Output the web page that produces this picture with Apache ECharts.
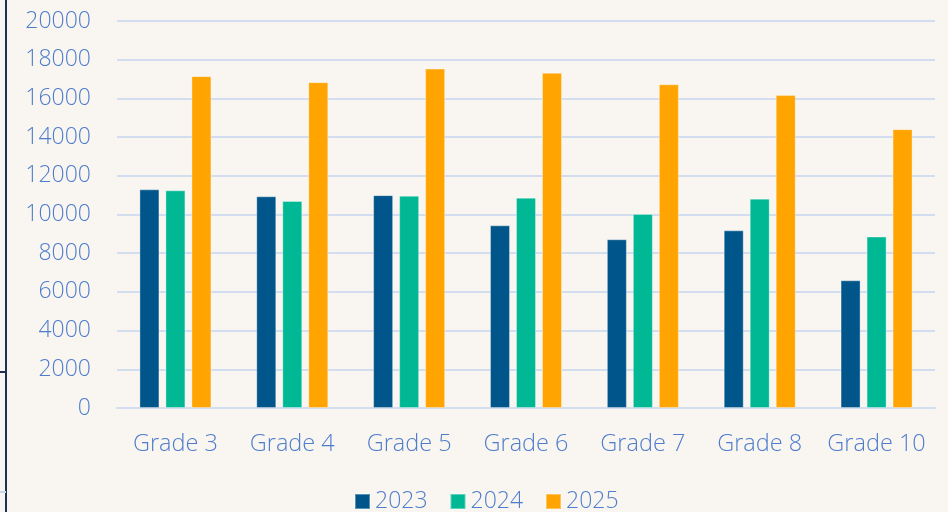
<!DOCTYPE html>
<html>
<head>
<meta charset="utf-8">
<script src="https://cdn.jsdelivr.net/npm/echarts@6/dist/echarts.min.js"></script>
<style>
  html, body { margin: 0; padding: 0; background: #f9f6f1; }
  #chart { width: 948px; height: 512px; }
</style>
</head>
<body>
<div id="chart"></div>
<script>
var grades = ['Grade 3', 'Grade 4', 'Grade 5', 'Grade 6', 'Grade 7', 'Grade 8', 'Grade 10'];
var y2023 = [11300, 10940, 11000, 9440, 8720, 9180, 6600];
var y2024 = [11250, 10700, 10970, 10870, 10030, 10820, 8860];
var y2025 = [17150, 16840, 17540, 17320, 16730, 16170, 14410];
var yTicks = {min: 0, max: 20000, interval: 2000};

var textColor = '#4f7dcc';
var gridColor = '#d2ddf0';
var font = 'Open Sans';

var chart = echarts.init(document.getElementById('chart'));

var barStyle = function (color) {
    return {
        color: color,
        borderColor: 'rgba(255,255,255,0.35)',
        borderWidth: 1
    };
};

var option = {
    backgroundColor: '#f9f6f1',
    animation: false,
    grid: {
        left: 117,
        right: 13,
        top: 21,
        bottom: 104
    },
    legend: {
        left: 349,
        top: 485,
        itemWidth: 15,
        itemHeight: 15,
        itemGap: 22,
        icon: 'rect',
        textStyle: {color: textColor, fontSize: 23, fontWeight: 300, fontFamily: font},
        data: ['2023', '2024', '2025']
    },
    xAxis: {
        type: 'category',
        data: grades,
        axisLine: {lineStyle: {color: gridColor, width: 2}},
        axisTick: {show: false},
        axisLabel: {color: textColor, fontSize: 23.5, fontWeight: 300, fontFamily: font, margin: 24, interval: 0}
    },
    yAxis: {
        type: 'value',
        min: yTicks.min,
        max: yTicks.max,
        interval: yTicks.interval,
        axisLine: {show: false},
        axisTick: {show: false},
        axisLabel: {
            color: textColor, fontSize: 23, fontWeight: 300, fontFamily: font, margin: 26,
            formatter: function (v) { return String(v); }
        },
        splitLine: {lineStyle: {color: gridColor, width: 2}}
    },
    series: [{
        name: '2023',
        type: 'bar',
        barWidth: 20,
        barGap: '30%',
        itemStyle: barStyle('#00568a'),
        data: y2023
    }, {
        name: '2024',
        type: 'bar',
        barWidth: 20,
        barGap: '30%',
        itemStyle: barStyle('#00b894'),
        data: y2024
    }, {
        name: '2025',
        type: 'bar',
        barWidth: 20,
        barGap: '30%',
        itemStyle: barStyle('#ffa400'),
        data: y2025
    }],
    graphic: [{
        type: 'line',
        shape: {x1: 6, y1: 0, x2: 6, y2: 512},
        style: {stroke: '#1d3153', lineWidth: 2}
    }, {
        type: 'line',
        shape: {x1: 0, y1: 372, x2: 6, y2: 372},
        style: {stroke: '#1d3153', lineWidth: 2}
    }, {
        type: 'line',
        shape: {x1: 0, y1: 492, x2: 6, y2: 492},
        style: {stroke: '#c9d6ee', lineWidth: 2}
    }]
};

chart.setOption(option);
</script>
</body>
</html>
